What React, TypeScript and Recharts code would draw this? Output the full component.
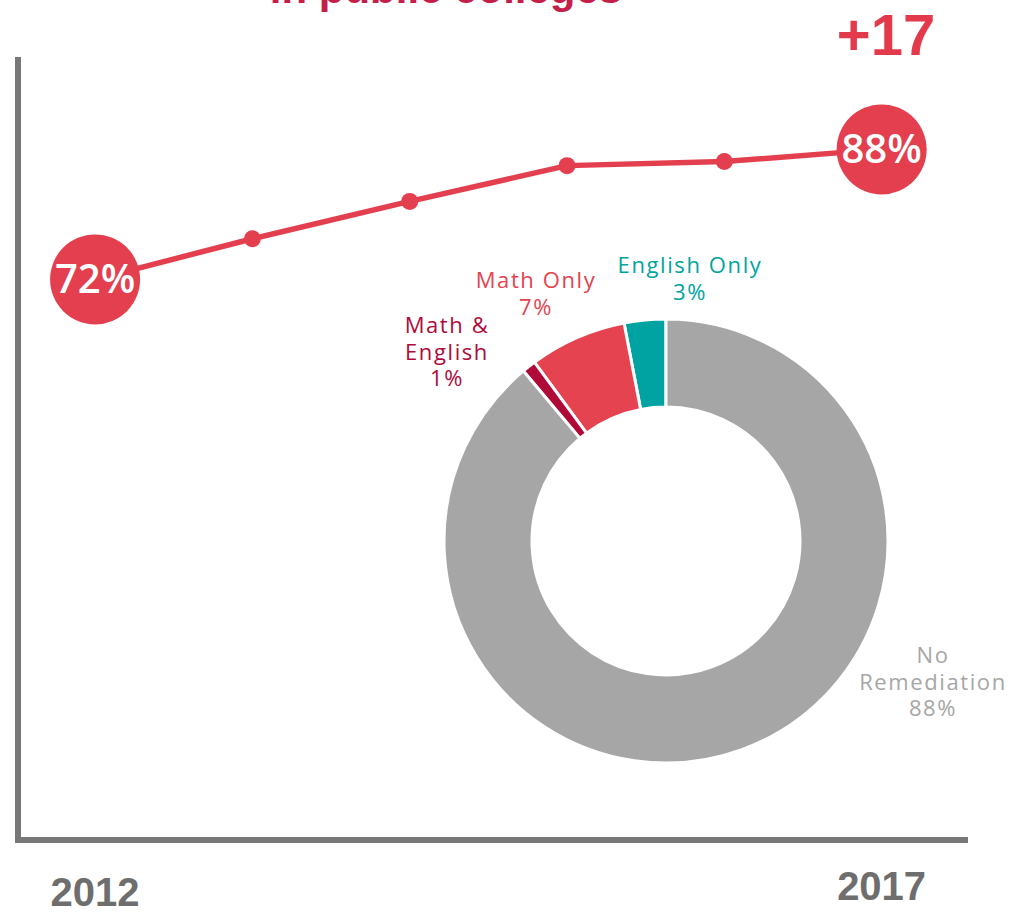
import React from 'react';
import { LineChart, Line, XAxis, YAxis, PieChart, Pie, Cell } from 'recharts';

const years = [2012, 2013, 2014, 2015, 2016, 2017];
const readyPct = [72, 77, 81.6, 86, 86.5, 88];
const yearTicks = [2012, 2017];

const sliceNames = ['English Only', 'Math Only', 'Math & English', 'No Remediation'];
const slicePct = [3, 7, 1, 88];

const titleText = 'in public colleges';
const changeText = '+17';

const RED = '#e33f4e';
const AXIS = '#777777';
const sliceColors = ['#00a3a1', '#e4434f', '#b00a38', '#a6a6a6'];
const labelColors = ['#00a3a1', '#e4434f', '#b00a38', '#a6a6a6'];

// how each pie label breaks, and where it sits relative to the donut centre
const labelLines: Record<string, string[]> = {
  'English Only': ['English Only'],
  'Math Only': ['Math Only'],
  'Math & English': ['Math &', 'English'],
  'No Remediation': ['No', 'Remediation'],
};
const labelNudge: Record<string, [number, number]> = {
  'English Only': [24, -268],
  'Math Only': [-130, -253],
  'Math & English': [-219, -208],
  'No Remediation': [267, 122],
};

const LABEL_FONT = "'Open Sans', 'Noto Sans', sans-serif";
const BOLD_FONT = "'Liberation Sans', Arial, sans-serif";

function YearTick(props: any) {
  const { x, y, payload } = props;
  const dy = payload.value === 2012 ? 58 : 52;
  return (
    <text x={x} y={y} dy={dy} textAnchor="middle" fill="#6e6e6e" fontFamily={BOLD_FONT} fontWeight={700} fontSize={40}>
      {payload.value}
    </text>
  );
}

function renderDot(props: any) {
  const { cx, cy, index, value } = props;
  const last = readyPct.length - 1;
  if (index === 0 || index === last) {
    return (
      <g key={`dot-${index}`}>
        <circle cx={cx} cy={cy} r={45} fill={RED} />
        <text x={cx} y={cy} dy={14} textAnchor="middle" fill="#fff" fontFamily={LABEL_FONT} fontWeight={600} fontSize={40}>
          {`${value}%`}
        </text>
      </g>
    );
  }
  return <circle key={`dot-${index}`} cx={cx} cy={cy} r={8.5} fill={RED} />;
}

function renderPieLabel(props: any) {
  const { cx, cy, index } = props;
  const name = sliceNames[index];
  const [dx, dy] = labelNudge[name];
  const lines = [...labelLines[name], `${slicePct[index]}%`];
  return (
    <text
      key={`lbl-${index}`}
      x={cx + dx}
      y={cy + dy}
      textAnchor="middle"
      fill={labelColors[index]}
      fontFamily={LABEL_FONT}
      fontSize={22}
      letterSpacing={1.6}
    >
      {lines.map((l, i) => (
        <tspan key={i} x={cx + dx} dy={i === 0 ? 0 : 26.5}>
          {l}
        </tspan>
      ))}
    </text>
  );
}

export default function App() {
  const lineData = years.map((year, i) => ({ year, pct: readyPct[i] }));
  const pieData = sliceNames.map((name, i) => ({ name, value: slicePct[i] }));

  return (
    <div style={{ position: 'absolute', left: 0, top: 0, width: 1011, height: 913, overflow: 'hidden', background: '#fff' }}>
      <LineChart width={1011} height={913} data={lineData} margin={{ top: 60, right: 46, bottom: 0, left: 17 }}>
        <XAxis
          type="number"
          dataKey="year"
          domain={[2011.51, 2017.53]}
          ticks={yearTicks}
          height={73}
          axisLine={{ stroke: AXIS, strokeWidth: 6, strokeLinecap: 'square' }}
          tickLine={false}
          tick={<YearTick />}
          allowDataOverflow
        />
        <YAxis
          type="number"
          domain={[3, 99]}
          width={1}
          axisLine={{ stroke: AXIS, strokeWidth: 6, strokeLinecap: 'square' }}
          tickLine={false}
          tick={false}
          allowDataOverflow
        />
        <Line dataKey="pct" stroke={RED} strokeWidth={5.5} dot={renderDot} activeDot={false} isAnimationActive={false} />
      </LineChart>

      <div style={{ position: 'absolute', left: 0, top: 0 }}>
        <PieChart width={1011} height={913} margin={{ top: 0, right: 0, bottom: 0, left: 0 }}>
          <Pie
            data={pieData}
            dataKey="value"
            nameKey="name"
            cx={666}
            cy={541}
            innerRadius={134}
            outerRadius={222}
            startAngle={90}
            endAngle={450}
            stroke="#fff"
            strokeWidth={3}
            label={renderPieLabel}
            labelLine={false}
            isAnimationActive={false}
          >
            {pieData.map((d, i) => (
              <Cell key={d.name} fill={sliceColors[i]} />
            ))}
          </Pie>
        </PieChart>
      </div>

      <svg width={1011} height={913} style={{ position: 'absolute', left: 0, top: 0, pointerEvents: 'none' }}>
        <text x={446} y={3} textAnchor="middle" fill="#c41f4b" fontFamily={BOLD_FONT} fontWeight={700} fontSize={42}>
          {titleText}
        </text>
        <text x={886} y={55} textAnchor="middle" fill="#e23a4a" fontFamily={BOLD_FONT} fontWeight={700} fontSize={58}>
          {changeText}
        </text>
      </svg>
    </div>
  );
}
